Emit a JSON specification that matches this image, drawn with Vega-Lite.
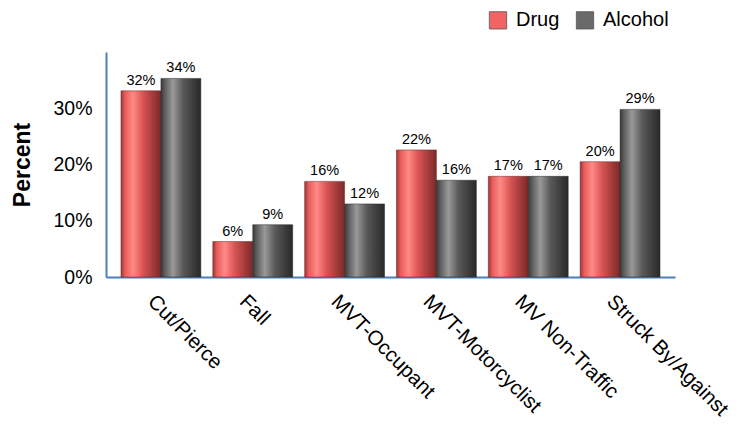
{
  "$schema": "https://vega.github.io/schema/vega-lite/v6.json",
  "autosize": {"type": "none"},
  "width": 569,
  "height": 225,
  "padding": {"left": 106, "top": 52, "right": 63, "bottom": 151},
  "background": "white",
  "config": {
    "font": "Liberation Sans",
    "view": {"stroke": null}
  },
  "data": {
    "values": [
      {"cause": "Cut/Pierce", "type": "Drug", "value": 0.331, "label": "32%"},
      {"cause": "Cut/Pierce", "type": "Alcohol", "value": 0.353, "label": "34%"},
      {"cause": "Fall", "type": "Drug", "value": 0.063, "label": "6%"},
      {"cause": "Fall", "type": "Alcohol", "value": 0.093, "label": "9%"},
      {"cause": "MVT-Occupant", "type": "Drug", "value": 0.170, "label": "16%"},
      {"cause": "MVT-Occupant", "type": "Alcohol", "value": 0.130, "label": "12%"},
      {"cause": "MVT-Motorcyclist", "type": "Drug", "value": 0.226, "label": "22%"},
      {"cause": "MVT-Motorcyclist", "type": "Alcohol", "value": 0.172, "label": "16%"},
      {"cause": "MV Non-Traffic", "type": "Drug", "value": 0.179, "label": "17%"},
      {"cause": "MV Non-Traffic", "type": "Alcohol", "value": 0.179, "label": "17%"},
      {"cause": "Struck By/Against", "type": "Drug", "value": 0.205, "label": "20%"},
      {"cause": "Struck By/Against", "type": "Alcohol", "value": 0.298, "label": "29%"}
    ]
  },
  "encoding": {
    "x": {
      "field": "cause",
      "type": "nominal",
      "sort": null,
      "scale": {"paddingInner": 0.13, "paddingOuter": 0.163},
      "axis": {
        "title": null,
        "labelAngle": 45,
        "labelAlign": "left",
        "labelBaseline": "middle",
        "labelFontSize": 20.5,
        "labelColor": "#000000",
        "labelPadding": 21,
        "labelOffset": -10,
        "ticks": false,
        "domainColor": "#4a7ebb",
        "domainWidth": 2,
        "grid": false
      }
    },
    "xOffset": {"field": "type", "type": "nominal", "sort": ["Drug", "Alcohol"], "scale": {"paddingInner": 0, "paddingOuter": 0}},
    "y": {
      "field": "value",
      "type": "quantitative",
      "scale": {"domain": [0, 0.4], "nice": false},
      "axis": {
        "title": "Percent",
        "titleFontSize": 23,
        "titleFontWeight": "bold",
        "titleColor": "#000000",
        "titlePadding": 18,
        "values": [0, 0.1, 0.2, 0.3],
        "format": ".0%",
        "labelFontSize": 19.5,
        "labelColor": "#000000",
        "labelPadding": 14,
        "ticks": false,
        "grid": false,
        "domainColor": "#4a7ebb",
        "domainWidth": 2
      }
    }
  },
  "layer": [
    {
      "mark": {"type": "bar", "strokeWidth": 0.8, "strokeOpacity": 0.6},
      "encoding": {
        "fill": {
          "condition": {
            "test": "datum.type === 'Drug'",
            "value": {
              "gradient": "linear", "x1": 0, "x2": 1, "y1": 0, "y2": 0,
              "stops": [
                {"offset": 0, "color": "#9a3535"},
                {"offset": 0.1, "color": "#e85c5c"},
                {"offset": 0.3, "color": "#ff8a86"},
                {"offset": 0.55, "color": "#d85454"},
                {"offset": 0.85, "color": "#993636"},
                {"offset": 1, "color": "#7a2a2a"}
              ]
            }
          },
          "value": {
            "gradient": "linear", "x1": 0, "x2": 1, "y1": 0, "y2": 0,
            "stops": [
              {"offset": 0, "color": "#3a3a3a"},
              {"offset": 0.1, "color": "#5e5e5e"},
              {"offset": 0.3, "color": "#999999"},
              {"offset": 0.55, "color": "#5a5a5a"},
              {"offset": 0.85, "color": "#383838"},
              {"offset": 1, "color": "#2a2a2a"}
            ]
          }
        },
        "stroke": {
          "condition": {"test": "datum.type === 'Drug'", "value": "#6a2020"},
          "value": "#222222"
        }
      }
    },
    {
      "mark": {"type": "square", "opacity": 0, "size": 1},
      "encoding": {
        "color": {
          "field": "type",
          "type": "nominal",
          "sort": ["Drug", "Alcohol"],
          "scale": {"domain": ["Drug", "Alcohol"], "range": ["#f06464", "#6a6a6a"]},
          "legend": {
            "title": null,
            "orient": "none",
            "legendX": 382,
            "legendY": -42,
            "direction": "horizontal",
            "symbolType": "square",
            "symbolSize": 300,
            "symbolStrokeColor": "#555555",
            "symbolStrokeWidth": 0.8,
            "symbolOpacity": 1,
            "labelFontSize": 20,
            "labelColor": "#000000",
            "labelOffset": 8,
            "columnPadding": 14
          }
        }
      }
    },
    {
      "mark": {"type": "text", "baseline": "bottom", "dy": -3, "fontSize": 14.5, "color": "#000000"},
      "encoding": {
        "text": {"field": "label"}
      }
    }
  ]
}
